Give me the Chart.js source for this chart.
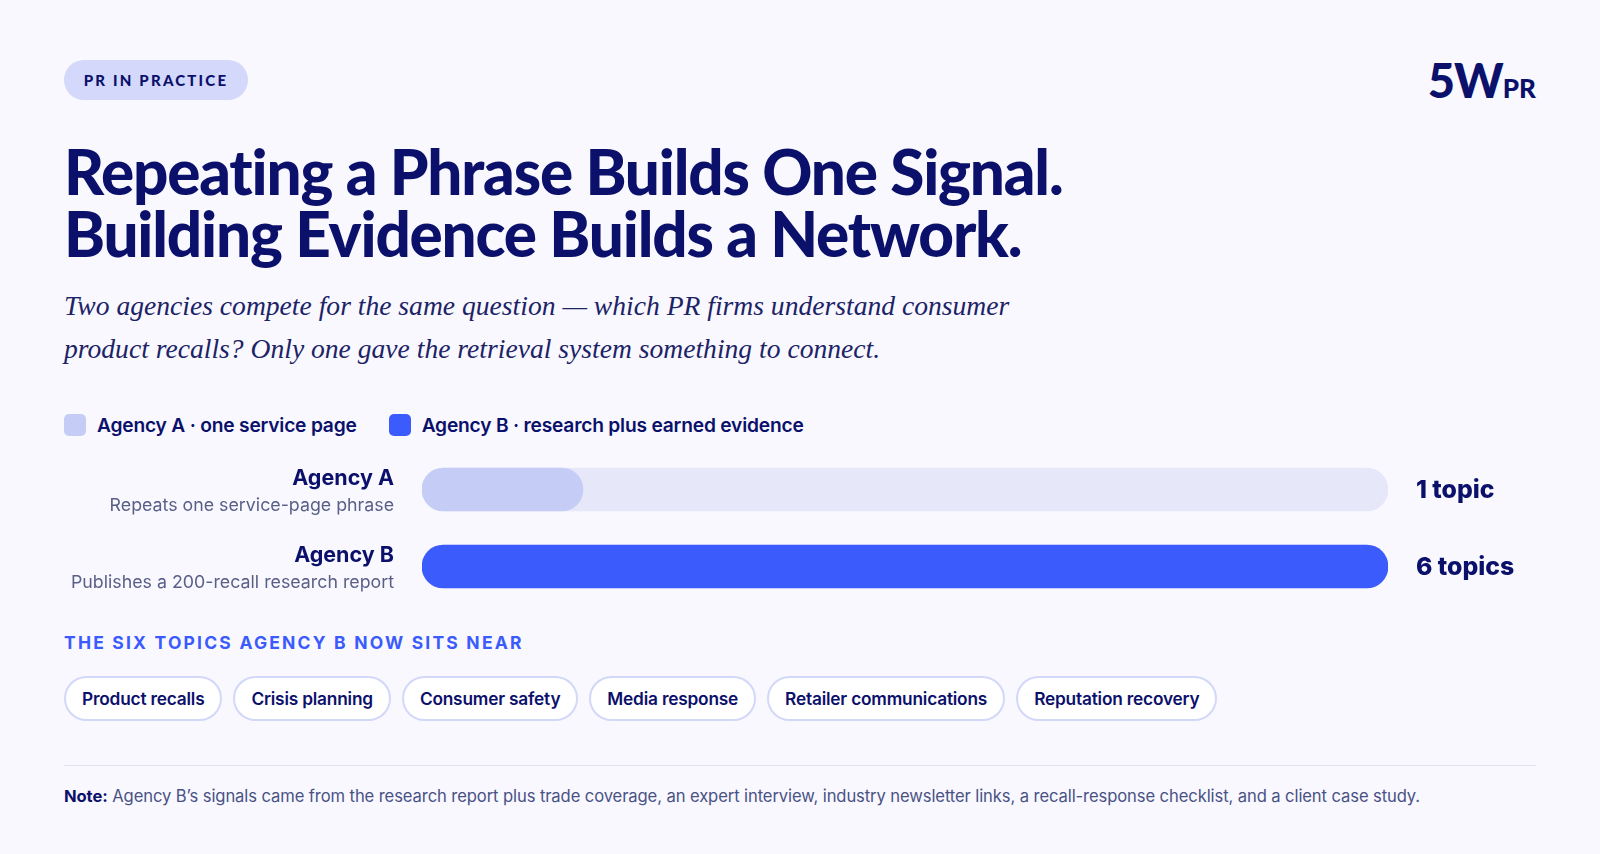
<!DOCTYPE html>
<html>
<head>
<meta charset="utf-8">
<script src="https://cdn.jsdelivr.net/npm/chart.js@4"></script>
<style>
    html, body { margin: 0; padding: 0; }
    body {
        width: 1600px; height: 854px; overflow: hidden; position: relative;
        background: #f8f8fe; color: #0b106b;
        font-family: Inter, 'Open Sans', sans-serif;
    }
    .pill {
        position: absolute; left: 64px; top: 60px; width: 184px; height: 40px;
        border-radius: 20px; background: #d4d8fb; color: #0b106b;
        font-family: Lato, sans-serif;
        font-weight: 900; font-size: 15px; letter-spacing: 2.2px;
        display: flex; align-items: center; justify-content: center;
    }
    .logo { position: absolute; right: 64px; top: 52px; font-family: Lato, sans-serif; font-weight: 900; white-space: nowrap; }
    .logo .big { font-size: 47px; letter-spacing: -1px; }
    .logo .small { font-size: 26px; }
    h1 {
        position: absolute; left: 64px; top: 140px; margin: 0;
        font-family: Lato, sans-serif;
        font-size: 62px; line-height: 62px; font-weight: 900; letter-spacing: -1.2px;
    }
    .sub {
        position: absolute; left: 64px; top: 284px; margin: 0; width: 1000px;
        font-family: 'Liberation Serif', serif; font-style: italic;
        font-size: 27.6px; line-height: 43px; color: #1c2366;
    }
    .legend { position: absolute; left: 64px; top: 413px; display: flex; align-items: center; }
    .legend .item { display: flex; align-items: center; margin-right: 32px; font-weight: 600; font-size: 19.2px; letter-spacing: -0.2px; }
    .legend .sw { width: 22px; height: 22px; border-radius: 5px; margin-right: 11px; }
    #chartWrap { position: absolute; left: 0; top: 451px; width: 1600px; height: 154px; }
    .section {
        position: absolute; left: 64px; top: 632px; font-weight: 700; font-size: 17.5px;
        letter-spacing: 2.2px; color: #3b5bfd;
    }
    .chips { position: absolute; left: 64px; top: 676px; display: flex; }
    .chip {
        height: 41px; padding: 0 16px; margin-right: 11px; border: 2px solid #d3d8f9;
        border-radius: 23px; background: #fff; font-weight: 600; font-size: 17.3px; letter-spacing: -0.2px;
        display: flex; align-items: center;
    }
    .rule { position: absolute; left: 64px; top: 765px; width: 1472px; height: 1px; background: #e1e3f2; }
    .note { position: absolute; left: 64px; top: 786px; font-size: 16.6px; color: #4a5285; letter-spacing: -0.1px; }
    .note b { color: #0b106b; font-weight: 700; }
</style>
</head>
<body>
<div class="pill">PR IN PRACTICE</div>
<div class="logo"><span class="big">5W</span><span class="small">PR</span></div>
<h1>Repeating a Phrase Builds One Signal.<br>Building Evidence Builds a Network.</h1>
<p class="sub">Two agencies compete for the same question — which PR firms understand consumer product recalls? Only one gave the retrieval system something to connect.</p>
<div class="legend" id="legend"></div>
<div id="chartWrap"><canvas id="chartTopicos"></canvas></div>
<div class="section">THE SIX TOPICS AGENCY B NOW SITS NEAR</div>
<div class="chips" id="chips"></div>
<div class="rule"></div>
<div class="note"><b>Note:</b> Agency B’s signals came from the research report plus trade coverage, an expert interview, industry newsletter links, a recall-response checklist, and a client case study.</div>

<script>
// ======================== DADOS ========================
const agencias = ['Agency A', 'Agency B'];
const descricoes = ['Repeats one service-page phrase', 'Publishes a 200-recall research report'];
const totalTopicos = [1, 6];
const rotulosValor = ['1 topic', '6 topics'];
const maxTopicos = 6;
const legendaTextos = ['Agency A · one service page', 'Agency B · research plus earned evidence'];
const topicosB = ['Product recalls', 'Crisis planning', 'Consumer safety', 'Media response', 'Retailer communications', 'Reputation recovery'];

const cores = ['#c5cdf7', '#3b5bfd'];
const corTrilho = '#e6e8f9';
const corTexto = '#0b106b';

// ======================== LEGENDA E CHIPS ========================
document.getElementById('legend').innerHTML = legendaTextos
    .map((t, i) => `<div class="item"><span class="sw" style="background:${cores[i]}"></span>${t}</div>`)
    .join('');
document.getElementById('chips').innerHTML = topicosB
    .map((t) => `<div class="chip">${t}</div>`)
    .join('');

// rótulos à esquerda e à direita das barras
const rotulosPlugin = {
    id: 'rotulos',
    afterDatasetsDraw(chart) {
        const { ctx, chartArea, scales } = chart;
        ctx.save();
        agencias.forEach((nome, i) => {
            const y = scales.y.getPixelForValue(i);
            ctx.textAlign = 'right';
            ctx.textBaseline = 'alphabetic';
            ctx.fillStyle = corTexto;
            ctx.font = '700 21.5px Inter';
            ctx.fillText(nome, chartArea.left - 28, y - 5);
            ctx.fillStyle = '#5a5f88';
            ctx.font = '400 17.8px Inter';
            ctx.fillText(descricoes[i], chartArea.left - 28, y + 21);

            ctx.textAlign = 'left';
            ctx.textBaseline = 'middle';
            ctx.fillStyle = corTexto;
            ctx.font = '800 24.8px Inter';
            ctx.fillText(rotulosValor[i], chartArea.right + 28, y + 1);
        });
        ctx.restore();
    },
};

new Chart(document.getElementById('chartTopicos'), {
    type: 'bar',
    data: {
        labels: agencias,
        datasets: [
            {
                data: totalTopicos,
                backgroundColor: cores,
                barThickness: 43,
                borderRadius: 22,
                borderSkipped: false,
                grouped: false,
                order: 1,
            },
            {
                data: agencias.map(() => maxTopicos),
                backgroundColor: corTrilho,
                barThickness: 43,
                borderRadius: 22,
                borderSkipped: false,
                grouped: false,
                order: 2,
            },
        ],
    },
    options: {
        indexAxis: 'y',
        responsive: true,
        maintainAspectRatio: false,
        animation: false,
        layout: { padding: { left: 422, right: 212, top: 0, bottom: 0 } },
        scales: {
            x: { min: 0, max: maxTopicos, display: false },
            y: { display: false },
        },
        plugins: { legend: { display: false }, tooltip: { enabled: false } },
    },
    plugins: [rotulosPlugin],
});
</script>
</body>
</html>
